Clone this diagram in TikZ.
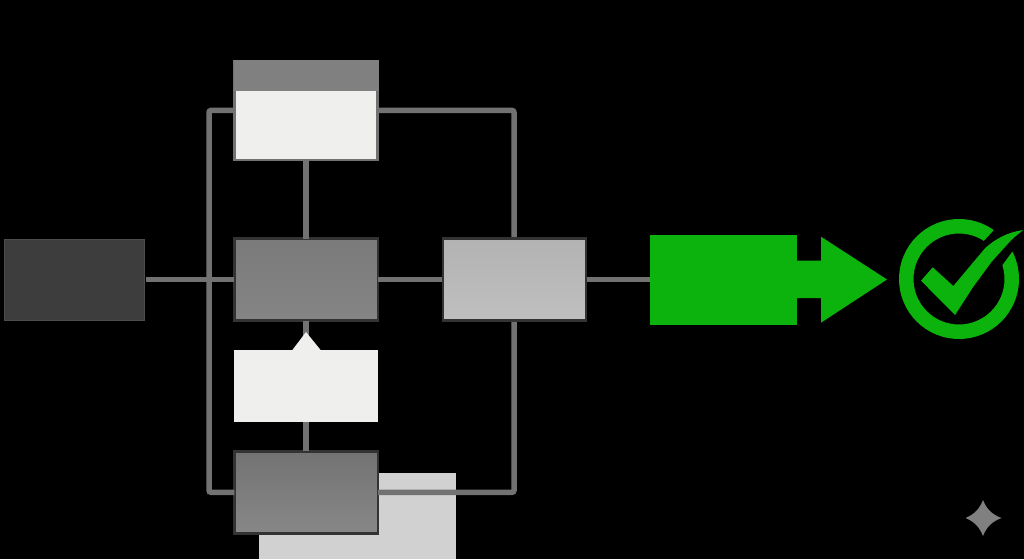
\documentclass[tikz,border=0pt]{standalone}
\tikzset{
  box/.style={rectangle,draw=#1,line width=2.5pt,inner sep=0pt,outer sep=0pt},
  plain/.style={rectangle,inner sep=0pt,outer sep=0pt},
  wire/.style={draw=wiregray,line width=5.5pt,rounded corners=2pt}
}
\definecolor{wiregray}{HTML}{727272}
\definecolor{okgreen}{HTML}{0CB30C}
\definecolor{paper}{HTML}{EFEFEE}
\begin{document}
\begin{tikzpicture}[x=1pt,y=-1pt]
\path[use as bounding box,fill=black] (0,0) rectangle (1024,559);
% light box behind everything
\node[plain,fill=black!18,minimum width=197pt,minimum height=86pt] (light) at (357.5,516) {};
% loop helpers
\coordinate (lc) at (209,300);
\coordinate (rc) at (514,300);
% boxes (first pass gives anchors)
\node[box=wiregray,fill=paper,minimum width=143pt,minimum height=99pt] (top) at (306.2,110.5) {};
\node[box=black!80,top color=black!52,bottom color=black!48,minimum width=143.5pt,minimum height=82pt] (mid) at (306.2,279.5) {};
\node[plain,fill=black!76,draw=black!70,line width=1pt,minimum width=140pt,minimum height=81pt] (left) at (74,279.5) {};
\node[box=black!80,top color=black!55,bottom color=black!47,minimum width=143.5pt,minimum height=82pt] (bot) at (306.2,492.3) {};
\node[plain,fill=paper,minimum width=144pt,minimum height=72pt] (white) at (306.2,386) {};
\node[plain,fill=okgreen,minimum width=147pt,minimum height=90pt] (gbox) at (723.5,279.5) {};
\path (514.5,279.5) node[plain,minimum width=143pt,minimum height=82pt] (right) {};
% connectors
\draw[wire,shorten <=2pt] (left.east) -- (mid.west);
\draw[wire] (mid.east) -- (right.west);
\draw[wire] (right.east) -- (gbox.west);
\draw[wire] (top.south) -- (mid.north);
\draw[wire] (mid.south) -- (white.north);
\draw[wire] (white.south) -- (bot.north);
\draw[wire] (top.west) -| (lc) |- (bot.west);
\draw[wire] (top.east) -| (rc) |- (bot.east);
% right box sits over the looping wire
\node[box=black!80,top color=black!30,bottom color=black!25,minimum width=143pt,minimum height=82pt] at (right) {};
% top band
\node[plain,fill=black!50,minimum width=145pt,minimum height=31pt] (band) at (306.2,75.5) {};
% pointer on white box
\fill[paper] (292,350.5) -- (306,332) -- (321,350.5) -- cycle;
% green arrow
\fill[okgreen] (gbox.east |- 0,260.7) -- (821,260.7) -- (821,236.7) -- (887,279.5) -- (821,322.7) -- (821,298) -- (gbox.east |- 0,298) -- cycle;
% ring with check
\coordinate (ringc) at (959,279);
\draw[okgreen,line width=14.5pt] (ringc) circle[radius=52.75];
\fill[black] (983.3,241.7) -- (995,229) -- (1024,218) -- (1024,248.3) -- (1013.3,250) -- (1002.3,265) -- cycle;
\fill[okgreen] (921,280.7) -- (932.7,267.3) -- (953.3,286)
  -- (985,248.3) .. controls (995,239) and (1008,232) .. (1023.3,230)
  .. controls (1017,235) and (1012,239) .. (1008.3,243.3)
  -- (991.7,261.7) -- (973.3,286.7) -- (955,315) -- cycle;
% watermark star
\fill[black!50] (983,500) .. controls (986.5,509) and (992,514.5) .. (1001.5,518)
  .. controls (992,521.5) and (986.5,527) .. (983,536)
  .. controls (979.5,527) and (974,521.5) .. (965.5,518)
  .. controls (974,514.5) and (979.5,509) .. (983,500) -- cycle;
\end{tikzpicture}
\end{document}
